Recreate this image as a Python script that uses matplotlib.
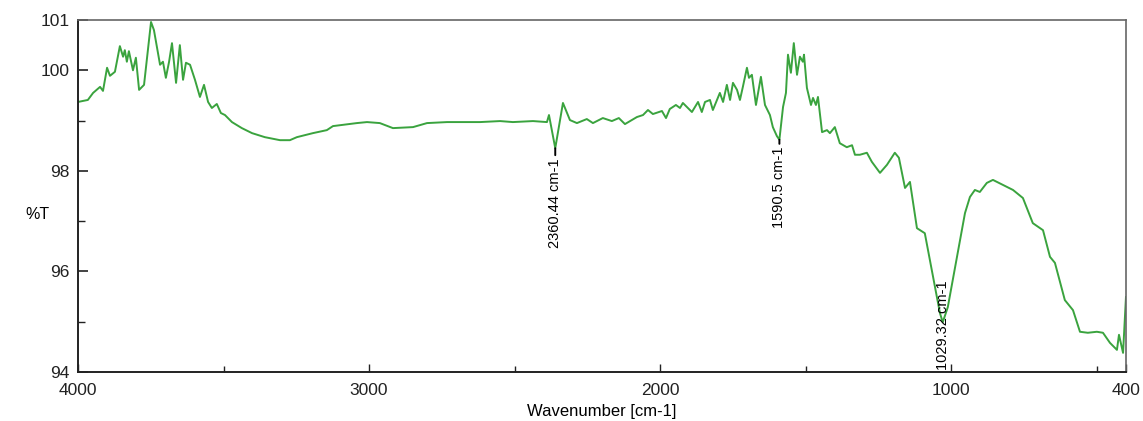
import numpy as np
import matplotlib
matplotlib.use("Agg")
import matplotlib.pyplot as plt
from matplotlib.ticker import FixedLocator

plt.rcParams['font.family'] = ['Liberation Sans', 'DejaVu Sans']

# FTIR spectrum (wavenumber in cm-1, %T)
wavenumber = [
    4000, 3966, 3948, 3924, 3914, 3900, 3890, 3873, 3856, 3845, 3839, 3832, 3825,
    3811, 3801, 3790, 3773, 3749, 3739, 3718, 3708, 3698, 3687, 3677, 3663, 3650,
    3639, 3629, 3615, 3598, 3581, 3567, 3553, 3540, 3523, 3509, 3495, 3471, 3437,
    3402, 3358, 3306, 3272, 3248, 3193, 3145, 3124, 3042, 3007, 2963, 2918, 2849,
    2801, 2732, 2619, 2550, 2506, 2437, 2389, 2382, 2360.44, 2334, 2310, 2286, 2252,
    2231, 2197, 2166, 2142, 2121, 2080, 2059, 2042, 2025, 1994, 1980, 1967, 1946,
    1932, 1922, 1891, 1870, 1857, 1846, 1829, 1819, 1795, 1784, 1771, 1760, 1750,
    1736, 1726, 1716, 1702, 1695, 1685, 1671, 1654, 1640, 1623, 1613, 1599, 1590.5,
    1578, 1568, 1561, 1551, 1541, 1530, 1520, 1510, 1506, 1496, 1482, 1475, 1465,
    1458, 1444, 1427, 1417, 1400, 1383, 1359, 1341, 1331, 1314, 1290, 1273, 1245,
    1221, 1194, 1180, 1159, 1142, 1118, 1091, 1067, 1049, 1039, 1029.32, 1012, 995,
    970, 953, 936, 919, 902, 878, 857, 809, 788, 754, 720, 685, 661, 644, 610, 582,
    558, 531, 500, 479, 455, 431, 424, 410, 400,
]
transmittance = [
    99.37, 99.41, 99.55, 99.67, 99.59, 100.05, 99.89, 99.97, 100.48, 100.27, 100.40, 100.17, 100.38,
    100.00, 100.25, 99.61, 99.71, 100.96, 100.80, 100.11, 100.17, 99.85, 100.17, 100.54, 99.75, 100.50,
    99.81, 100.15, 100.11, 99.81, 99.47, 99.71, 99.37, 99.25, 99.33, 99.15, 99.11, 98.97, 98.85,
    98.75, 98.67, 98.61, 98.61, 98.67, 98.75, 98.81, 98.89, 98.95, 98.97, 98.95, 98.85, 98.87,
    98.95, 98.97, 98.97, 98.99, 98.97, 98.99, 98.97, 99.11, 98.45, 99.35, 99.01, 98.95, 99.03,
    98.95, 99.05, 98.99, 99.05, 98.93, 99.07, 99.11, 99.21, 99.13, 99.19, 99.05, 99.23, 99.31,
    99.25, 99.35, 99.17, 99.37, 99.17, 99.37, 99.41, 99.21, 99.55, 99.37, 99.71, 99.41, 99.75,
    99.61, 99.41, 99.67, 100.05, 99.85, 99.91, 99.31, 99.87, 99.31, 99.11, 98.87, 98.69, 98.62,
    99.27, 99.55, 100.31, 99.95, 100.54, 99.91, 100.27, 100.17, 100.31, 99.65, 99.31, 99.45, 99.31,
    99.47, 98.77, 98.81, 98.75, 98.87, 98.55, 98.47, 98.51, 98.32, 98.32, 98.36, 98.18, 97.96,
    98.12, 98.36, 98.26, 97.66, 97.78, 96.86, 96.76, 96.03, 95.49, 95.17, 94.99, 95.29, 95.83,
    96.63, 97.16, 97.48, 97.62, 97.58, 97.76, 97.82, 97.68, 97.62, 97.46, 96.96, 96.82, 96.29, 96.17, 95.43, 95.23,
    94.80, 94.78, 94.80, 94.78, 94.58, 94.44, 94.74, 94.38, 95.49,
]

# labelled peaks
peak_wn = [2360.44, 1590.5, 1029.32]
peak_t = [98.45, 98.62, 94.99]
peak_labels = ['2360.44 cm-1', '1590.5 cm-1', '1029.32 cm-1']

x_ticks = [4000, 3000, 2000, 1000, 400]
x_minor = [3500, 2500, 1500, 500]
y_ticks = [94, 96, 98, 100, 101]
y_minor = [95, 97, 99]

fig = plt.figure(figsize=(11.43, 4.21), dpi=100)
ax = fig.add_axes([0.0682, 0.1164, 0.9169, 0.8361])

ax.plot(wavenumber, transmittance, color='#3aa33e', lw=1.4)

ax.set_xlim(4000, 400)
ax.set_ylim(94, 101)

ax.xaxis.set_major_locator(FixedLocator(x_ticks))
ax.xaxis.set_minor_locator(FixedLocator(x_minor))
ax.yaxis.set_major_locator(FixedLocator(y_ticks))
ax.yaxis.set_minor_locator(FixedLocator(y_minor))
ax.set_xticklabels([str(v) for v in x_ticks])
ax.set_yticklabels([str(v) for v in y_ticks])

ax.tick_params(axis='both', which='both', direction='in', labelsize=12.5, colors='#222222')
ax.tick_params(axis='y', which='major', length=7, width=1.2, pad=6)
ax.tick_params(axis='y', which='minor', length=5, width=1.0)
ax.tick_params(axis='x', which='major', length=6, width=1.0, pad=8)
ax.tick_params(axis='x', which='minor', length=4, width=1.0)

for side in ['left', 'bottom']:
    ax.spines[side].set_color('#222222')
    ax.spines[side].set_linewidth(1.4)
for side in ['top', 'right']:
    ax.spines[side].set_color('#666666')
    ax.spines[side].set_linewidth(1.2)

ax.set_xlabel('Wavenumber [cm-1]', fontsize=12, labelpad=4)
fig.text(0.022, 0.49, '%T', fontsize=11.5, ha='left', va='center')

# peak annotations
offsets = [-7, -5]
for wn, t, lab, off in zip(peak_wn[:2], peak_t[:2], peak_labels[:2], offsets):
    ax.annotate(lab, xy=(wn, t), xytext=(0, off), textcoords='offset points',
                rotation=90, ha='center', va='top', fontsize=10.5,
                arrowprops=dict(arrowstyle='-', color='black', lw=1.4,
                                shrinkA=0, shrinkB=0))
ax.text(peak_wn[2], 94.04, peak_labels[2], rotation=90, ha='center',
        va='bottom', fontsize=10.5)

fig.savefig('out.png', dpi=100)
